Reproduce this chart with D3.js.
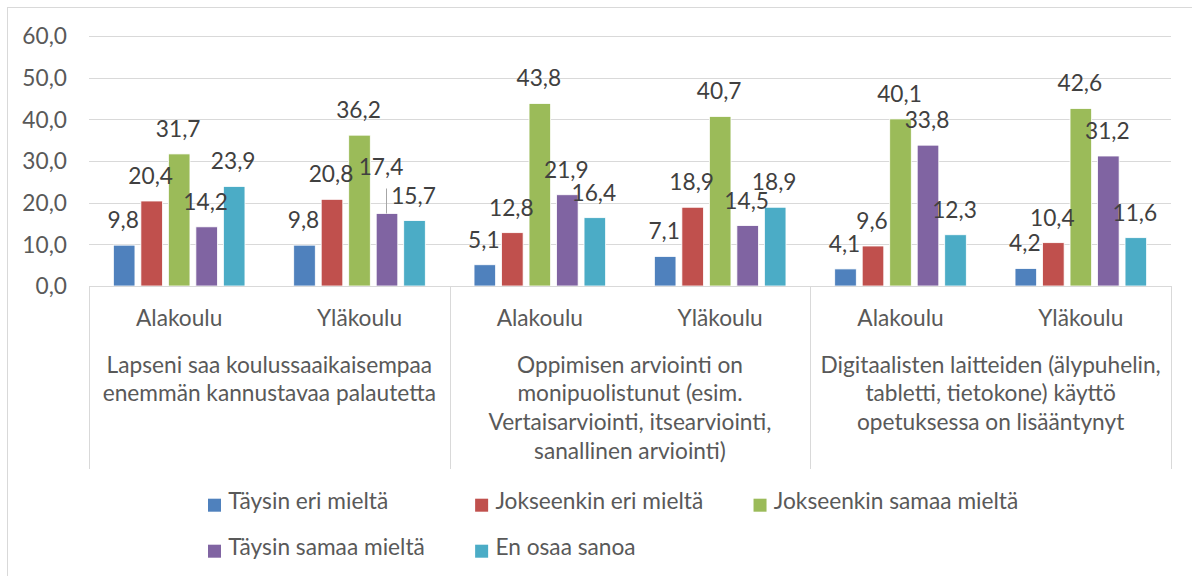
<!DOCTYPE html>
<html>
<head>
<meta charset="utf-8">
<script src="https://cdn.jsdelivr.net/npm/d3@7"></script>
<style>
  html, body { margin: 0; padding: 0; background: #fff; }
  svg { display: block; }
  text { font-family: Lato, "Open Sans", sans-serif; }
</style>
</head>
<body>
<svg id="chart" width="1192" height="576"></svg>
<script>
// ---------- data ----------
const categories = ["Alakoulu", "Yläkoulu", "Alakoulu", "Yläkoulu", "Alakoulu", "Yläkoulu"];
const groupLabels = [
  ["Lapseni saa koulussaaikaisempaa", "enemmän kannustavaa palautetta"],
  ["Oppimisen arviointi on", "monipuolistunut (esim.", "Vertaisarviointi, itsearviointi,", "sanallinen arviointi)"],
  ["Digitaalisten laitteiden (älypuhelin,", "tabletti, tietokone) käyttö", "opetuksessa on lisääntynyt"]
];
const seriesNames = ["Täysin eri mieltä", "Jokseenkin eri mieltä", "Jokseenkin samaa mieltä", "Täysin samaa mieltä", "En osaa sanoa"];
const taysinEriMielta      = [9.8, 9.8, 5.1, 7.1, 4.1, 4.2];
const jokseenkinEriMielta  = [20.4, 20.8, 12.8, 18.9, 9.6, 10.4];
const jokseenkinSamaaMielta= [31.7, 36.2, 43.8, 40.7, 40.1, 42.6];
const taysinSamaaMielta    = [14.2, 17.4, 21.9, 14.5, 33.8, 31.2];
const enOsaaSanoa          = [23.9, 15.7, 16.4, 18.9, 12.3, 11.6];
const yTicks = [0, 10, 20, 30, 40, 50, 60];

const seriesValues = [taysinEriMielta, jokseenkinEriMielta, jokseenkinSamaaMielta, taysinSamaaMielta, enOsaaSanoa];
const colors = ["#4F81BD", "#C0504D", "#9BBB59", "#8064A2", "#4BACC6"];

// ---------- layout ----------
const svg = d3.select("#chart");
const plotL = 89, plotR = 1171, plotT = 36, plotB = 286;
const catLineBottom = 469;

// font size chosen so that text widths match the reference (Calibri-like metrics)
const probe = svg.append("text").attr("font-size", 100).text("Täysin eri mieltä");
const probeW = probe.node().getComputedTextLength();
probe.remove();
const fs = Math.max(16, Math.min(26, 100 * 160 / probeW));

// frame
svg.append("rect").attr("x", 7.5).attr("y", 7.5).attr("width", 1210).attr("height", 620)
  .attr("fill", "#fff").attr("stroke", "#D9D9D9").attr("stroke-width", 1);

const x0 = d3.scaleBand().domain(d3.range(categories.length)).range([plotL, plotR]);
const x1 = d3.scaleBand().domain(d3.range(seriesNames.length)).range([0, x0.bandwidth()])
  .paddingInner(0.215).paddingOuter(0.886);
const y = d3.scaleLinear().domain([0, 60]).range([plotB, plotT]);

// gridlines
svg.append("g").selectAll("line").data(yTicks.filter(t => t > 0)).join("line")
  .attr("x1", plotL).attr("x2", plotR)
  .attr("y1", d => Math.round(y(d)) + 0.5).attr("y2", d => Math.round(y(d)) + 0.5)
  .attr("stroke", "#D9D9D9").attr("stroke-width", 1);

// y axis labels
const yAxis = d3.axisLeft(y).tickValues(yTicks).tickSize(0).tickPadding(0)
  .tickFormat(d => d3.format(".1f")(d).replace(".", ","));
const yg = svg.append("g").attr("transform", `translate(${67},0)`).call(yAxis);
yg.select(".domain").remove();
yg.selectAll("text").attr("font-size", fs).attr("fill", "#595959")
  .attr("font-family", "Lato, 'Open Sans', sans-serif").attr("dy", "0.35em");

// bars
const barG = svg.append("g");
seriesValues.forEach((vals, s) => {
  barG.append("g").selectAll("rect").data(vals).join("rect")
    .attr("x", (d, i) => x0(i) + x1(s))
    .attr("y", d => y(d))
    .attr("width", x1.bandwidth())
    .attr("height", d => y(0) - y(d))
    .attr("fill", colors[s])
    .attr("stroke", "#fff").attr("stroke-width", 0.8);
});

// horizontal axis line
svg.append("line").attr("x1", plotL).attr("x2", plotR)
  .attr("y1", Math.round(y(0)) + 0.5).attr("y2", Math.round(y(0)) + 0.5)
  .attr("stroke", "#D9D9D9").attr("stroke-width", 1);

// category group separators
const sepX = [0, 2, 4].map(i => x0(i)).concat([plotR]);
svg.append("g").selectAll("line").data(sepX).join("line")
  .attr("x1", d => Math.round(d) + 0.5).attr("x2", d => Math.round(d) + 0.5)
  .attr("y1", plotB).attr("y2", catLineBottom)
  .attr("stroke", "#D9D9D9").attr("stroke-width", 1);

// data labels
const labelLift = 25;
const movedLabels = [{ s: 3, i: 1, extra: 21, dx: -5 }]; // label dragged up with leader line
const fmt = v => d3.format(".1f")(v).replace(".", ",");
const lblG = svg.append("g");
seriesValues.forEach((vals, s) => {
  vals.forEach((v, i) => {
    const cx = x0(i) + x1(s) + x1.bandwidth() / 2;
    const mv = movedLabels.find(m => m.s === s && m.i === i);
    const ly = y(v) - labelLift - (mv ? mv.extra : 0);
    const lx = cx - 1 + (mv ? mv.dx : 0);
    if (mv) {
      lblG.append("line").attr("x1", cx - 0.5).attr("x2", cx - 0.5)
        .attr("y1", ly + 21).attr("y2", y(v))
        .attr("stroke", "#A6A6A6").attr("stroke-width", 1);
    }
    lblG.append("text").attr("x", lx).attr("y", ly).attr("dy", "0.35em")
      .attr("text-anchor", "middle").attr("font-size", fs).attr("fill", "#404040")
      .text(fmt(v));
  });
});

// category labels
svg.append("g").selectAll("text").data(categories).join("text")
  .attr("x", (d, i) => x0(i) + x0.bandwidth() / 2).attr("y", 326)
  .attr("text-anchor", "middle").attr("font-size", fs).attr("fill", "#595959")
  .text(d => d);

// group labels
const lineH = 28.7;
groupLabels.forEach((lines, g) => {
  const cx = (x0(2 * g) + x0(2 * g + 1) + x0.bandwidth()) / 2;
  svg.append("g").selectAll("text").data(lines).join("text")
    .attr("x", cx).attr("y", (d, k) => 372.5 + k * lineH)
    .attr("text-anchor", "middle").attr("font-size", fs).attr("fill", "#595959")
    .text(d => d);
});

// legend
const legendRows = [[0, 1, 2], [3, 4]];
const rowBase = [509.3, 555.3];
const measure = t => {
  const n = svg.append("text").attr("font-size", fs).text(t);
  const w = n.node().getComputedTextLength(); n.remove(); return w;
};
const nCols = 3;
const colW = d3.range(nCols).map(c => d3.max(legendRows, r => r[c] !== undefined ? measure(seriesNames[r[c]]) : 0));
const colX = [208];
for (let c = 1; c < nCols; c++) colX.push(colX[c - 1] + colW[c - 1] + 70.6);
const lg = svg.append("g");
legendRows.forEach((row, r) => {
  row.forEach((s, c) => {
    lg.append("rect").attr("x", colX[c]).attr("y", rowBase[r] - 10.6)
      .attr("width", 13).attr("height", 13).attr("fill", colors[s]);
    lg.append("text").attr("x", colX[c] + 20.3).attr("y", rowBase[r])
      .attr("font-size", fs).attr("fill", "#595959").text(seriesNames[s]);
  });
});
</script>
</body>
</html>
